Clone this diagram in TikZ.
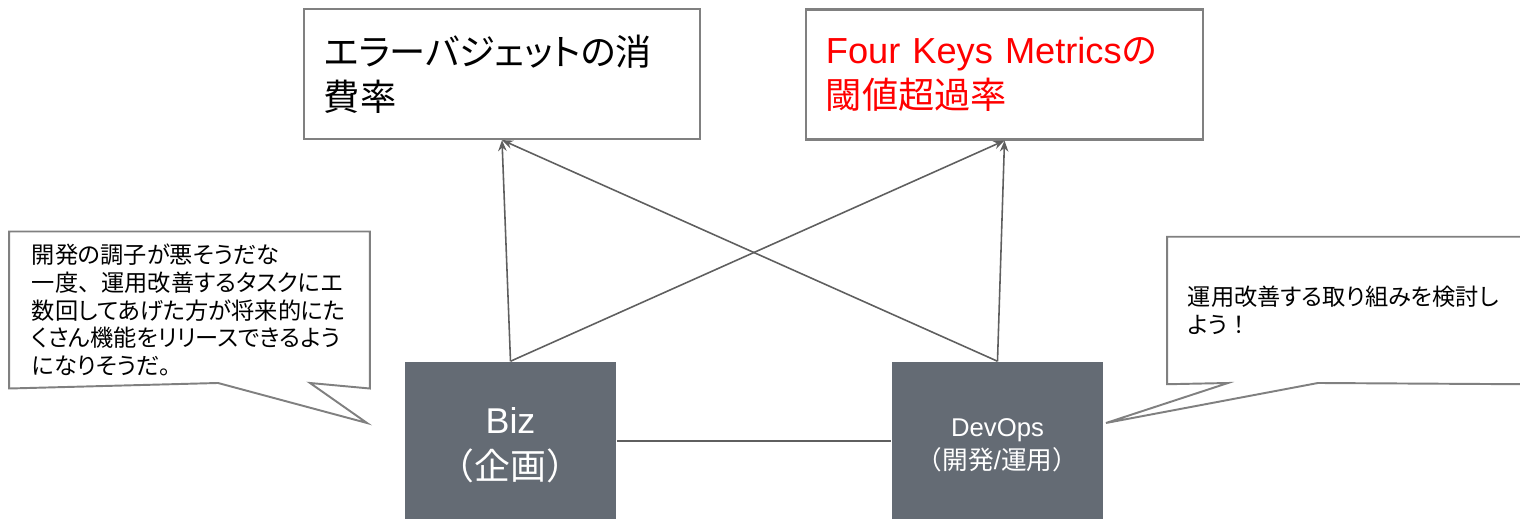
\documentclass[tikz,border=0pt]{standalone}
\usepackage{fontspec}
\setmainfont{Liberation Sans}
\newfontfamily\jp[RawFeature=+palt]{Noto Sans CJK JP}
\newfontfamily\jpfull{Noto Sans CJK JP}
\usepackage{tikz}
\usetikzlibrary{arrows.meta}

\definecolor{slate}{RGB}{100,107,116}
\definecolor{linegray}{RGB}{95,95,95}
\definecolor{framegray}{RGB}{128,128,128}

\begin{document}
\begin{tikzpicture}[
        x=0.01cm, y=-0.01cm,
        metric/.style={draw=framegray, line width=0.6pt, rectangle, align=left, minimum height=1.3cm, inner xsep=0.2cm, font=\fontsize{10.3}{12.8}\selectfont},
        team/.style={fill=slate, text=white, minimum width=2.11cm, minimum height=1.66cm, align=center},
        talk/.style={align=left, minimum height=1.46cm, font=\jp\fontsize{6.6}{7.9}\selectfont}
        ]
    % Define styles
    \tikzstyle{link} = [draw=linegray, line width=0.45pt]
    \tikzstyle{frame} = [draw=framegray, line width=0.55pt]

    \useasboundingbox (0,0) rectangle (1520,519);

    % Define metric nodes
    \node[metric, text width=3.56cm] (budget) at (502,74) {{\jp エラーバジェットの消}\\{\jp 費率}};
    \node[metric, text width=3.57cm, text=red] (fourkeys) at (1004.5,74.5) {Four Keys Metrics{\jp の}\\{\jp 閾値超過率}};

    % Define team nodes
    \node[team, font=\fontsize{10.2}{13}\selectfont] (biz) at (510.5,445) {Biz\\{\jpfull （企画）}};
    \node[team, font=\fontsize{7.3}{9.4}\selectfont] (devops) at (997.5,445) {DevOps\\{\jpfull （開発}/{\jpfull 運用）}};

    % Define callout nodes and their tips
    \node[talk, minimum width=3.59cm, inner xsep=0.22cm, text width=3.15cm] (bizsay) at (189.5,310) {開発の調子が悪そうだな\\一度{\jpfull 、}運用改善するタスクにエ\\数回してあげた方が将来的にた\\くさん機能をリリースできるよう\\になりそうだ。};
    \node[talk, minimum width=3.56cm, inner xsep=0.2cm, text width=3.16cm] (devsay) at (1346,310.5) {運用改善する取り組みを検討し\\よう{\jpfull ！}};
    \coordinate (bizbaseA) at (218,383);
    \coordinate (bizbaseB) at (310,383);
    \coordinate (biztip) at (367,423);
    \coordinate (devbaseA) at (1228,383);
    \coordinate (devbaseB) at (1318,383);
    \coordinate (devtip) at (1106,423);

    % Draw callout outlines
    \draw[frame] (bizsay.south west) -- (bizsay.north west) -- (bizsay.north east) -- (bizsay.south east) -- (bizbaseB) -- (biztip) -- (bizbaseA) -- cycle;
    \draw[frame] (devsay.south east) -- (devsay.north east) -- (devsay.north west) -- (devsay.south west) -- (devbaseA) -- (devtip) -- (devbaseB) -- cycle;

    % Draw edges from team nodes to metric nodes
    \draw[link, -{Stealth[length=0.11cm, width=0.085cm]}] (biz.north) -- (budget.south);
    \draw[link, -{Stealth[length=0.11cm, width=0.085cm]}] (biz.north) -- (fourkeys.south);
    \draw[link, -{Stealth[length=0.11cm, width=0.085cm]}] (devops.north) -- (budget.south);
    \draw[link, -{Stealth[length=0.11cm, width=0.085cm]}] (devops.north) -- (fourkeys.south);

    % Draw edge between team nodes
    \draw[link] ([yshift=0.04cm]biz.east) -- ([yshift=0.04cm]devops.west);

\end{tikzpicture}
\end{document}
